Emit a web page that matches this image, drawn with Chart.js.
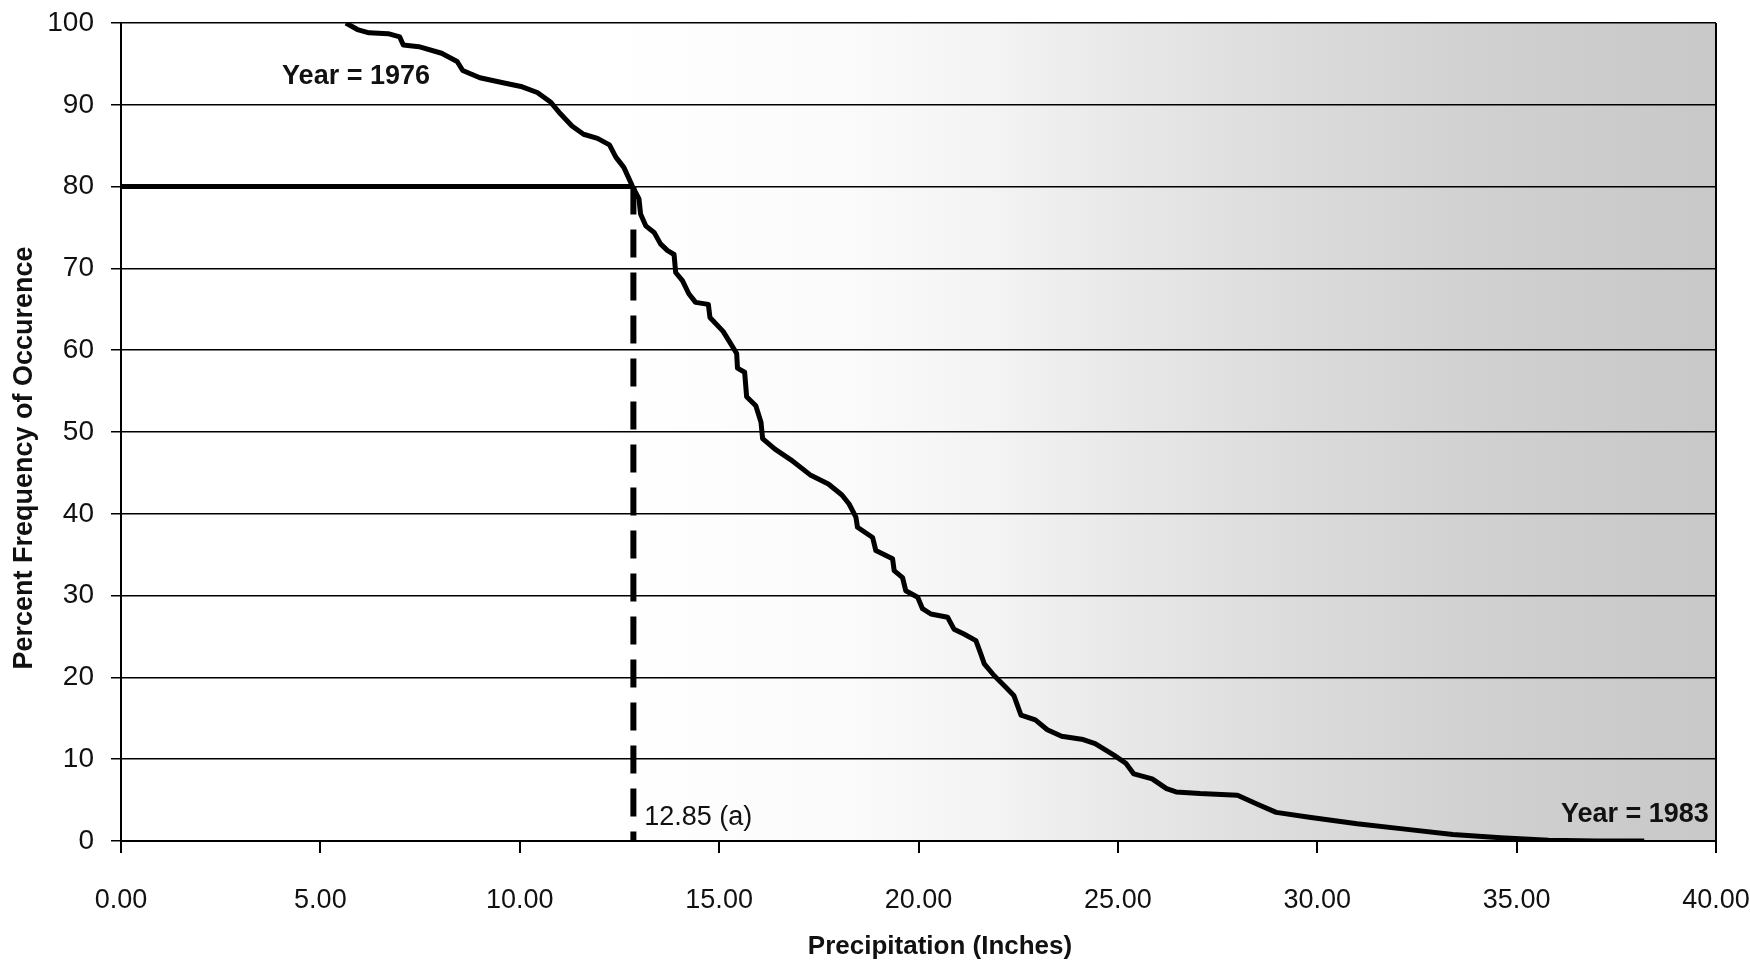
<!DOCTYPE html>
<html lang="en">
<head>
  <meta charset="UTF-8">
  <title>Precipitation - Percent Frequency of Occurence</title>
  <script src="https://cdn.jsdelivr.net/npm/chart.js@4"></script>
  <style>
    body {
      margin: 0;
      background: #ffffff;
    }
    #wrap {
      width: 1750px;
      height: 960px;
    }
  </style>
</head>
<body>
  <div id="wrap"><canvas id="freqChart" width="1750" height="960"></canvas></div>

  <script>
    // precipitation (inches) and percent frequency of occurence
    const precip = [5.64, 5.93, 6.22, 6.70, 6.99, 7.08, 7.47, 8.04, 8.43, 8.57, 9.00, 9.58, 10.06, 10.44, 10.78,
      11.02, 11.31, 11.60, 11.95, 12.25, 12.41, 12.61, 12.82, 12.99, 13.03, 13.16, 13.37, 13.53, 13.70, 13.87,
      13.91, 14.08, 14.24, 14.41, 14.73, 14.77, 15.10, 15.29, 15.44, 15.46, 15.64, 15.69, 15.92, 16.05, 16.09,
      16.40, 16.80, 17.30, 17.74, 18.08, 18.26, 18.43, 18.47, 18.85, 18.93, 19.35, 19.39, 19.60, 19.68, 19.98,
      20.10, 20.31, 20.73, 20.89, 21.14, 21.44, 21.56, 21.65, 21.90, 22.19, 22.39, 22.57, 22.93, 23.23, 23.59,
      24.13, 24.43, 24.90, 25.20, 25.40, 25.86, 26.22, 26.46, 27.06, 28.00, 28.50, 28.97, 29.80, 31.00, 32.20,
      33.40, 34.60, 35.80, 37.00, 38.20];
    const freq = [100, 99.2, 98.8, 98.7, 98.3, 97.3, 97.1, 96.3, 95.3, 94.2, 93.3, 92.7, 92.2, 91.5, 90.3,
      88.9, 87.4, 86.4, 85.9, 85.1, 83.6, 82.35, 80.1, 78.5, 76.65, 75.2, 74.4, 73.0, 72.2, 71.7,
      69.5, 68.5, 66.9, 65.85, 65.6, 64.0, 62.3, 60.8, 59.6, 57.8, 57.3, 54.3, 53.2, 51.2, 49.2,
      47.9, 46.6, 44.7, 43.65, 42.3, 41.2, 39.6, 38.35, 37.1, 35.5, 34.5, 33.05, 32.2, 30.6, 29.8,
      28.4, 27.75, 27.35, 25.9, 25.3, 24.5, 22.9, 21.65, 20.2, 18.8, 17.8, 15.4, 14.8, 13.6, 12.8,
      12.4, 11.9, 10.5, 9.5, 8.2, 7.6, 6.4, 6.0, 5.8, 5.6, 4.5, 3.5, 2.9, 2.1, 1.45,
      0.8, 0.4, 0.1, 0.0, 0.0];

    // 80 percent reading
    const refPrecip = 12.85;
    const refFreq = 80;

    // axis ranges
    const xMin = 0, xMax = 40, xStep = 5;
    const yMin = 0, yMax = 100, yStep = 10;

    const notes = [
      { text: 'Year = 1976', x: 4.04, y: 93.5, bold: true, align: 'left' },
      { text: 'Year = 1983', x: 39.82, y: 3.2, bold: true, align: 'right' },
      { text: '12.85 (a)', x: 13.12, y: 2.9, bold: false, align: 'left' }
    ];

    const FONT = "'Liberation Sans', Arial, sans-serif";

    const curve = precip.map((p, i) => ({ x: p, y: freq[i] }));

    // stippled paper look: grey shading that gets darker to the right
    const paperPlugin = {
      id: 'paper',
      beforeDraw(chart) {
        const { ctx, chartArea: a } = chart;
        const g = ctx.createLinearGradient(a.left, 0, a.right, 0);
        g.addColorStop(0, '#ffffff');
        g.addColorStop(0.3, '#ffffff');
        g.addColorStop(0.45, '#fbfbfb');
        g.addColorStop(0.55, '#f3f3f3');
        g.addColorStop(0.63, '#e8e8e8');
        g.addColorStop(0.73, '#dcdcdc');
        g.addColorStop(0.86, '#d0d0d0');
        g.addColorStop(1, '#c8c8c8');
        ctx.save();
        ctx.fillStyle = g;
        ctx.fillRect(a.left, a.top, a.right - a.left, a.bottom - a.top);
        ctx.restore();
      }
    };

    const labelsPlugin = {
      id: 'labels',
      afterDraw(chart) {
        const { ctx, chartArea: a, scales } = chart;
        ctx.save();
        // right border
        ctx.strokeStyle = '#000';
        ctx.lineWidth = 2;
        ctx.beginPath();
        ctx.moveTo(a.right, a.top);
        ctx.lineTo(a.right, a.bottom);
        ctx.stroke();

        ctx.fillStyle = '#111';
        ctx.textBaseline = 'middle';
        notes.forEach(n => {
          ctx.font = (n.bold ? 'bold ' : '') + '27px ' + FONT;
          ctx.textAlign = n.align;
          ctx.fillText(n.text, scales.x.getPixelForValue(n.x), scales.y.getPixelForValue(n.y));
        });

        // axis titles
        ctx.font = 'bold 26px ' + FONT;
        ctx.textAlign = 'center';
        ctx.fillText('Precipitation (Inches)', 940, 947);
        ctx.font = 'bold 27px ' + FONT;
        ctx.translate(25, 458);
        ctx.rotate(-Math.PI / 2);
        ctx.fillText('Percent Frequency of Occurence', 0, 0);
        ctx.restore();
      }
    };

    const ctx = document.getElementById('freqChart').getContext('2d');

    new Chart(ctx, {
      type: 'scatter',
      data: {
        datasets: [
          {
            label: 'Frequency',
            data: curve,
            showLine: true,
            borderColor: '#000',
            borderWidth: 5,
            borderJoinStyle: 'round',
            pointRadius: 0,
            tension: 0
          },
          {
            label: '80 percent',
            data: [{ x: xMin, y: refFreq }, { x: refPrecip, y: refFreq }],
            showLine: true,
            borderColor: '#000',
            borderWidth: 5,
            pointRadius: 0
          },
          {
            label: '12.85',
            data: [{ x: refPrecip, y: refFreq }, { x: refPrecip, y: yMin }],
            showLine: true,
            borderColor: '#000',
            borderWidth: 6,
            borderDash: [28, 15],
            pointRadius: 0
          }
        ]
      },
      options: {
        responsive: false,
        animation: false,
        devicePixelRatio: 1,
        layout: { padding: { top: 23, right: 34, left: 0, bottom: 0 } },
        plugins: {
          legend: { display: false },
          tooltip: { enabled: false }
        },
        scales: {
          x: {
            type: 'linear',
            min: xMin,
            max: xMax,
            afterFit: s => {
              s.height = 119;
              s.paddingLeft = 0;
              s.paddingRight = 0;
            },
            ticks: {
              stepSize: xStep,
              autoSkip: false,
              maxRotation: 0,
              padding: 31,
              color: '#111',
              font: { family: FONT, size: 27 },
              callback: v => v.toFixed(2)
            },
            grid: { drawOnChartArea: false, drawTicks: true, tickLength: 12, color: '#000', lineWidth: 2 },
            border: { color: '#000', width: 2 }
          },
          y: {
            min: yMin,
            max: yMax,
            afterFit: s => {
              s.width = 121;
              s.paddingTop = 0;
              s.paddingBottom = 0;
            },
            ticks: {
              stepSize: yStep,
              padding: 17,
              color: '#111',
              font: { family: FONT, size: 28 }
            },
            grid: { color: '#000', lineWidth: 1.5, tickLength: 10 },
            border: { color: '#000', width: 2 }
          }
        }
      },
      plugins: [paperPlugin, labelsPlugin]
    });
  </script>
</body>
</html>
